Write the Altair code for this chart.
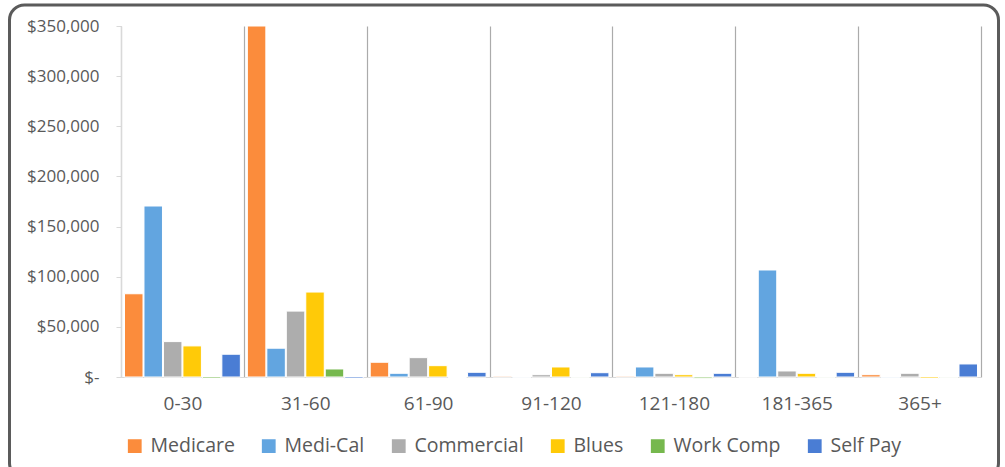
import altair as alt
import pandas as pd

categories = ["0-30", "31-60", "61-90", "91-120", "121-180", "181-365", "365+"]
series = ["Medicare", "Medi-Cal", "Commercial", "Blues", "Work Comp", "Self Pay"]
colors = ["#FB8C3C", "#62A5E0", "#ADADAD", "#FFCA08", "#76B84E", "#4A7DD4"]

medicare = [83000, 350000, 14700, 800, 800, 0, 2300]
medi_cal = [170500, 28700, 3700, -300, 10000, 106700, -700]
commercial = [35300, 65700, 19300, 2300, 3700, 6000, 3700]
blues = [31000, 84700, 11300, 10000, 2300, 3700, -1500]
work_comp = [-1500, 8000, -500, -300, -1300, -300, -300]
self_pay = [22700, -1500, 4700, 4300, 3700, 4700, 13000]

y_ticks = [0, 50000, 100000, 150000, 200000, 250000, 300000, 350000]

rows = []
for s, vals in zip(series, [medicare, medi_cal, commercial, blues, work_comp, self_pay]):
    for c, v in zip(categories, vals):
        rows.append({"bucket": c, "payer": s, "amount": v})
df = pd.DataFrame(rows)

TXT = "#595959"

bars = alt.Chart(df).mark_bar(stroke="white", strokeWidth=1).encode(
    x=alt.X(
        "bucket:N", sort=categories,
        scale=alt.Scale(paddingInner=0, paddingOuter=0),
        axis=alt.Axis(title=None, labelAngle=0, ticks=False, tickBand="extent",
                      grid=True, gridColor="#ababab", gridWidth=1.2,
                      domainColor="#d9d9d9", domainWidth=1.2,
                      labelFont="Open Sans", labelFontSize=19, labelColor=TXT,
                      labelPadding=17),
    ),
    xOffset=alt.XOffset("payer:N", sort=series,
                        scale=alt.Scale(paddingInner=0.05, paddingOuter=0.18)),
    y=alt.Y(
        "amount:Q",
        scale=alt.Scale(domain=[0, 350000], nice=False, zero=True),
        axis=alt.Axis(title=None, values=y_ticks, grid=False,
                      labelExpr="datum.value == 0 ? '$-\u00a0\u00a0' : '$' + format(datum.value, ',')",
                      domainColor="#d9d9d9", domainWidth=1.2, tickColor="#d9d9d9",
                      tickSize=5, labelFont="Open Sans", labelFontSize=17,
                      labelColor=TXT, labelPadding=17),
    ),
    color=alt.Color(
        "payer:N", sort=series,
        scale=alt.Scale(domain=series, range=colors),
        legend=alt.Legend(title=None, orient="none", direction="horizontal",
                          legendX=4, legendY=410, padding=0,
                          symbolType="square", symbolSize=190, symbolStrokeWidth=0,
                          labelFont="Open Sans", labelFontSize=19.5, labelColor=TXT,
                          labelOffset=6, columnPadding=24),
    ),
)

frame = alt.Chart(pd.DataFrame({"k": [0]})).mark_rect(
    cornerRadius=15, fillOpacity=0, stroke="#5b5b5b", strokeWidth=3
).encode(
    x=alt.value(-111.5), x2=alt.value(877.5), y=alt.value(-21), y2=alt.value(452)
)

chart = alt.layer(bars, frame).properties(
    width=860, height=351,
    padding={"left": 121, "top": 26, "right": 24, "bottom": 90},
    autosize="none",
).configure_view(stroke=None)

chart.save("out.html", embed_options={"renderer": "svg", "actions": False})
